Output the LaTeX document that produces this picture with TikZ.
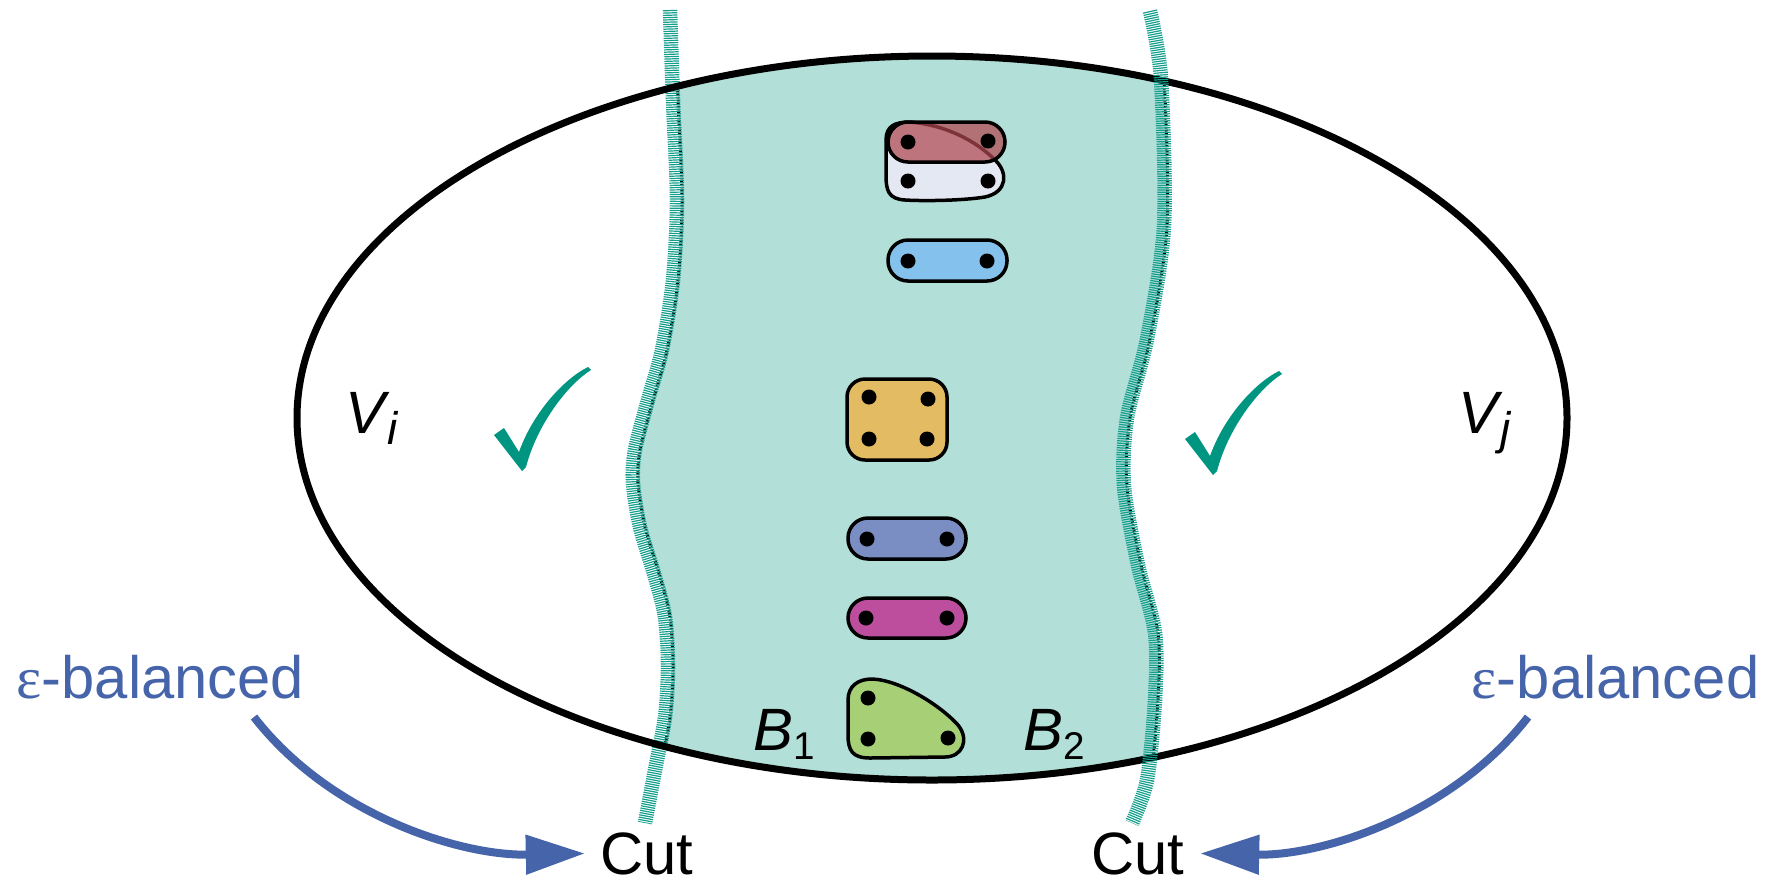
\documentclass[tikz,border=0pt]{standalone}
\usepackage{fontspec}
\setmainfont{Liberation Sans}
\newfontfamily\grkfont{Liberation Serif}
\usetikzlibrary{arrows.meta}

\definecolor{regionfill}{RGB}{178,223,216}
\definecolor{hatchteal}{RGB}{20,158,140}
\definecolor{checkteal}{RGB}{0,149,128}
\definecolor{balblue}{RGB}{70,100,170}
\definecolor{edgered}{RGB}{176,72,80}
\definecolor{edgewhite}{RGB}{228,232,242}
\definecolor{edgeblue}{RGB}{132,193,236}
\definecolor{edgeyellow}{RGB}{227,187,98}
\definecolor{edgeslate}{RGB}{123,142,196}
\definecolor{edgemagenta}{RGB}{188,78,157}
\definecolor{edgegreen}{RGB}{166,207,118}

\tikzset{
  hedge/.style={draw=black, line width=0.35mm, line join=round},
  vtx/.style={circle, fill=black, inner sep=0pt, minimum size=1.5mm},
  cutline/.style={hatchteal, line width=1.45mm, dash pattern=on 0.12mm off 0.11mm},
  cutborder/.style={black, line width=0.3mm, dash pattern=on 0.15mm off 0.15mm},
  lbl/.style={font=\fontsize{17}{20}\selectfont, inner sep=0pt},
  cutlbl/.style={font=\fontsize{17}{20}\selectfont, inner xsep=1.5mm, inner ysep=0pt, anchor=base},
  ballbl/.style={font=\fontsize{17}{20}\selectfont, inner sep=0pt, text=balblue},
  balarrow/.style={balblue, line width=0.8mm, -{Triangle[length=5.9mm,width=3.8mm]}},
  checkglyph/.pic={
    \fill[checkteal] (-28,-35) -- (-18,-42) -- (-3,-18)
      .. controls (10,-55) and (40,-90) .. (66,-103) -- (69,-100)
      .. controls (45,-85) and (15,-45) .. (4,-3) -- (0,1) -- cycle;
  }
}

\newcommand{\leftcutpts}{(675,10) (678,100) (682,200) (678,280) (667,350) (653,400) (640,450) (638,483) (645,527) (660,577) (670,617) (673,667) (670,717) (660,770) (650,823)}
\newcommand{\rightcutpts}{(1153,11) (1164,79) (1167,226) (1150,339) (1130,418) (1127,486) (1141,565) (1158,633) (1158,700) (1150,780) (1135,823)}
\newcommand{\rightcutrev}{(1135,823) (1150,780) (1158,700) (1158,633) (1141,565) (1127,486) (1130,418) (1150,339) (1167,226) (1164,79) (1153,11)}

\begin{document}
\begin{tikzpicture}[x=0.1mm, y=-0.1mm]
\useasboundingbox (0,0) rectangle (1772,885);

% shaded part between the two cuts, kept inside the vertex set
\begin{scope}
  \clip (932,418) ellipse [x radius=63.5mm, y radius=36.2mm];
  \fill[regionfill] plot[smooth] coordinates {\leftcutpts}
    -- plot[smooth] coordinates {\rightcutrev} -- cycle;
  \draw[cutborder] plot[smooth] coordinates {\leftcutpts};
  \draw[cutborder] plot[smooth] coordinates {\rightcutpts};
\end{scope}

% left cut, the vertex set, right cut
\begin{scope}[xshift=-0.5mm]
  \draw[cutline] plot[smooth] coordinates {\leftcutpts};
\end{scope}
\draw[line width=0.7mm] (932,418) ellipse [x radius=63.5mm, y radius=36.2mm];
\begin{scope}[xshift=-0.3mm]
  \draw[cutline] plot[smooth] coordinates {\rightcutpts};
\end{scope}

% hyperedges
\draw[hedge, fill=edgewhite] (910,122) .. controls (945,125) and (975,140) .. (995,160)
  .. controls (1008,172) and (1008,192) .. (985,197)
  .. controls (960,201) and (920,201) .. (905,200)
  .. controls (888,199) and (886,190) .. (886,175) -- (886,140)
  .. controls (886,126) and (895,122) .. (910,122) -- cycle;
\draw[hedge, fill=edgered, fill opacity=0.72, rounded corners=2mm] (888,122) rectangle (1005,162);
\draw[hedge, fill=edgeblue, rounded corners=2mm] (888,240) rectangle (1007,281);
\draw[hedge, fill=edgeyellow, rounded corners=1.8mm] (847,379) rectangle (947,460);
\draw[hedge, fill=edgeslate, rounded corners=2mm] (848,518) rectangle (966,559);
\draw[hedge, fill=edgemagenta, rounded corners=2mm] (848,598) rectangle (966,638);
\draw[hedge, fill=edgegreen] (872,679) .. controls (900,680) and (940,705) .. (958,725)
  .. controls (970,740) and (962,757) .. (945,757) -- (870,758)
  .. controls (852,758) and (848,750) .. (848,735) -- (848,700)
  .. controls (848,686) and (858,679) .. (872,679) -- cycle;

% vertices
\node[vtx] (a1) at (908,142) {};
\node[vtx] (a2) at (988,141) {};
\node[vtx] (a3) at (908,181) {};
\node[vtx] (a4) at (988,181) {};
\node[vtx] (b1) at (908,261) {};
\node[vtx] (b2) at (987,261) {};
\node[vtx] (c1) at (869,397) {};
\node[vtx] (c2) at (928,399) {};
\node[vtx] (c3) at (869,439) {};
\node[vtx] (c4) at (927,439) {};
\node[vtx] (d1) at (867,539) {};
\node[vtx] (d2) at (947,539) {};
\node[vtx] (e1) at (866,618) {};
\node[vtx] (e2) at (947,618) {};
\node[vtx] (f1) at (868,698) {};
\node[vtx] (f2) at (868,739) {};
\node[vtx] (f3) at (948,738) {};

% part labels
\node[lbl, anchor=base west] (vi) at (345,433) {\itshape V\hspace{0.5pt}\raisebox{-3.4pt}{\fontsize{13}{13}\selectfont i}};
\node[lbl, anchor=base west] (vj) at (1458,433) {\itshape V\hspace{0.5pt}\raisebox{-3.4pt}{\fontsize{13}{13}\selectfont j}};
\node[lbl, anchor=base west] (bl) at (753,750) {\itshape B\raisebox{-2.8pt}{\upshape\fontsize{11}{11}\selectfont 1}};
\node[lbl, anchor=base west] (br) at (1023,750) {\itshape B\raisebox{-2.8pt}{\upshape\fontsize{11}{11}\selectfont 2}};

% check marks
\pic at (522,470) {checkglyph};
\pic at (1213,474) {checkglyph};

% balance labels and cut labels
\node[ballbl, anchor=base west] (epsl) at (16,698) {{\grkfont ε}-balanced};
\node[ballbl, anchor=base east] (epsr) at (1760,698) {{\grkfont ε}-balanced};
\node[cutlbl] (cutl) at (647,874) {Cut};
\node[cutlbl] (cutr) at (1138,874) {Cut};

\coordinate (als) at (254,717);
\coordinate (ars) at (1528,717);
\draw[balarrow] (als) .. controls (330,815) and (460,856) .. (cutl.west);
\draw[balarrow] (ars) .. controls (1452,815) and (1322,856) .. (cutr.east);
\end{tikzpicture}
\end{document}
